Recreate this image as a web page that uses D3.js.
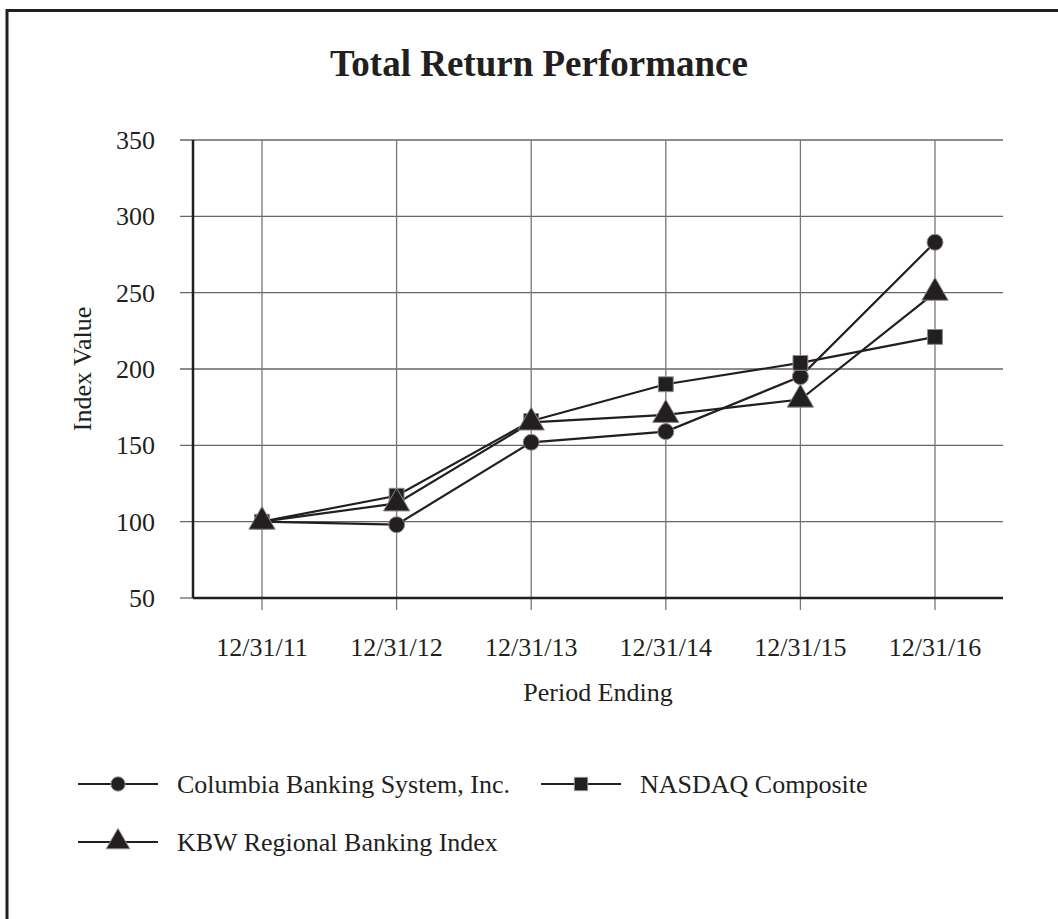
<!DOCTYPE html>
<html>
<head>
<meta charset="utf-8">
<script src="https://cdn.jsdelivr.net/npm/d3@7.9.0/dist/d3.min.js"></script>
<style>
  body { margin: 0; background: #fff; }
  svg text { font-family: "Liberation Serif", "Times New Roman", serif; fill: #231f20; }
</style>
</head>
<body>
<svg id="chart" width="1058" height="919"></svg>
<script>
// Period labels (x axis)
const periods = ['12/31/11', '12/31/12', '12/31/13', '12/31/14', '12/31/15', '12/31/16'];
// Index values
const columbia = [100, 98, 152, 159, 195, 283];
const nasdaq = [100, 117, 166, 190, 204, 221];
const kbw = [100, 112, 165, 170, 180, 250];
const yTicks = [50, 100, 150, 200, 250, 300, 350];

const series = [
  { name: 'Columbia Banking System, Inc.', values: columbia, symbol: d3.symbolCircle, size: 200 },
  { name: 'NASDAQ Composite', values: nasdaq, symbol: d3.symbolSquare, size: 220 },
  { name: 'KBW Regional Banking Index', values: kbw, symbol: d3.symbolTriangle, size: 300 }
];

const ink = '#231f20';
const svg = d3.select('#chart');

// Frame (top and left edges only, as in the scan)
svg.append('path')
  .attr('d', 'M7,919 V10.5 H1058')
  .attr('fill', 'none')
  .attr('stroke', ink)
  .attr('stroke-width', 3);

// Plot area
const plotLeft = 193, plotRight = 1003, plotTop = 140, plotBottom = 598;

const x = d3.scalePoint().domain(periods).range([262, 935]);
const y = d3.scaleLinear().domain([50, 350]).range([plotBottom, plotTop]);

// Title
svg.append('text')
  .attr('x', 539).attr('y', 76)
  .attr('text-anchor', 'middle')
  .attr('font-size', 37).attr('font-weight', 'bold')
  .text('Total Return Performance');

// Horizontal gridlines
svg.append('g').selectAll('line')
  .data(yTicks.slice(1))
  .join('line')
  .attr('x1', plotLeft - 13).attr('x2', plotRight)
  .attr('y1', d => y(d)).attr('y2', d => y(d))
  .attr('stroke', '#666').attr('stroke-width', 1.3);

// Vertical gridlines
svg.append('g').selectAll('line')
  .data(periods)
  .join('line')
  .attr('x1', d => x(d)).attr('x2', d => x(d))
  .attr('y1', plotTop).attr('y2', plotBottom + 12)
  .attr('stroke', '#777').attr('stroke-width', 1.3);

// Y tick at 50
svg.append('line')
  .attr('x1', plotLeft - 13).attr('x2', plotLeft)
  .attr('y1', y(50)).attr('y2', y(50))
  .attr('stroke', '#666').attr('stroke-width', 1.3);

// Axes lines
svg.append('line')
  .attr('x1', plotLeft).attr('x2', plotLeft)
  .attr('y1', plotTop).attr('y2', plotBottom)
  .attr('stroke', ink).attr('stroke-width', 2.5);
svg.append('line')
  .attr('x1', plotLeft).attr('x2', plotRight)
  .attr('y1', plotBottom).attr('y2', plotBottom)
  .attr('stroke', ink).attr('stroke-width', 2.5);

// Y tick labels
svg.append('g').selectAll('text')
  .data(yTicks)
  .join('text')
  .attr('x', 155).attr('y', d => y(d) + 9)
  .attr('text-anchor', 'end')
  .attr('font-size', 26)
  .text(d => d);

// X tick labels
svg.append('g').selectAll('text')
  .data(periods)
  .join('text')
  .attr('x', d => x(d)).attr('y', 656)
  .attr('text-anchor', 'middle')
  .attr('font-size', 26)
  .text(d => d);

// Axis titles
svg.append('text')
  .attr('x', (plotLeft + plotRight) / 2).attr('y', 701)
  .attr('text-anchor', 'middle')
  .attr('font-size', 26)
  .text('Period Ending');
svg.append('text')
  .attr('transform', `translate(91, ${y(200)}) rotate(-90)`)
  .attr('text-anchor', 'middle')
  .attr('font-size', 26)
  .text('Index Value');

// Lines
const line = d3.line()
  .x((d, i) => x(periods[i]))
  .y(d => y(d));

series.forEach(s => {
  svg.append('path')
    .datum(s.values)
    .attr('d', line)
    .attr('fill', 'none')
    .attr('stroke', ink)
    .attr('stroke-width', 2.2);
});

// Markers
series.forEach(s => {
  const sym = d3.symbol().type(s.symbol).size(s.size);
  svg.append('g').selectAll('path')
    .data(s.values)
    .join('path')
    .attr('transform', (d, i) => `translate(${x(periods[i])}, ${y(d)})`)
    .attr('d', sym)
    .attr('fill', ink)
    .attr('stroke', '#8a8a8a')
    .attr('stroke-width', 1);
});

// Legend
const legendPos = [
  { x: 78, y: 784 },
  { x: 541, y: 784 },
  { x: 78, y: 842 }
];
series.forEach((s, i) => {
  const p = legendPos[i];
  const g = svg.append('g').attr('transform', `translate(${p.x}, ${p.y})`);
  g.append('line')
    .attr('x1', 0).attr('x2', 80)
    .attr('stroke', ink).attr('stroke-width', 2.2);
  g.append('path')
    .attr('transform', `translate(40, 0)`)
    .attr('d', d3.symbol().type(s.symbol).size(s.size * 0.8))
    .attr('fill', ink)
    .attr('stroke', '#8a8a8a')
    .attr('stroke-width', 1);
  g.append('text')
    .attr('x', 99).attr('y', 9)
    .attr('font-size', 26)
    .text(s.name);
});
</script>
</body>
</html>
